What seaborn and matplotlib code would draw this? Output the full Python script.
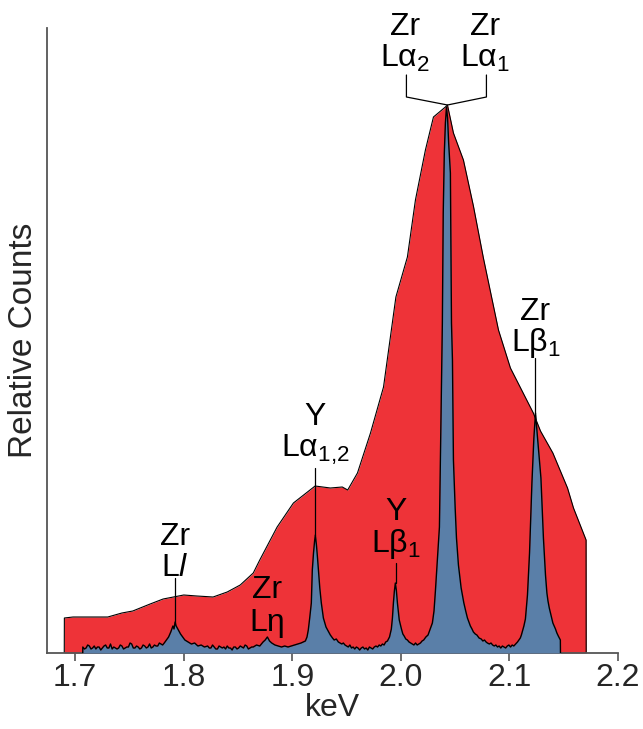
import matplotlib
matplotlib.use("Agg")
import matplotlib.pyplot as plt
import seaborn as sns
import pandas as pd

# ---------------- data ----------------
# EDS spectrum (red envelope): energy (keV) and relative counts
eds_kev = [1.6899, 1.6900, 1.698, 1.707, 1.730, 1.743, 1.753, 1.769, 1.781, 1.800,
           1.812, 1.827, 1.840, 1.852, 1.864, 1.870, 1.886, 1.901, 1.921, 1.935,
           1.946, 1.951, 1.960, 1.972, 1.984, 1.9954, 2.006, 2.0134, 2.0226, 2.030,
           2.041, 2.0429, 2.0484, 2.0576, 2.0668, 2.076, 2.0899, 2.1009, 2.122, 2.1286,
           2.140, 2.1535, 2.159, 2.1706, 2.1707]
eds_counts = [0, 35, 36, 36, 36, 40, 42, 49, 54, 58,
              57, 56, 61, 68, 80, 93, 126, 150, 167, 165,
              166, 163, 180, 220, 266, 356, 396, 453, 503, 536,
              546, 548, 520, 493, 447, 395, 323, 285, 240, 222,
              200, 165, 145, 113, 0]

# WDS spectrum (blue): energy (keV) and relative counts
wds_kev = [1.7069, 1.7070, 1.7085, 1.710, 1.7115, 1.713, 1.7145, 1.716, 1.7175, 1.719,
           1.7205, 1.722, 1.7235, 1.725, 1.7265, 1.728, 1.7295, 1.731, 1.7325, 1.734,
           1.7355, 1.737, 1.7385, 1.740, 1.7415, 1.743, 1.7445, 1.746, 1.7475, 1.749,
           1.7505, 1.752, 1.7535, 1.755, 1.7565, 1.758, 1.7595, 1.761, 1.7625, 1.764,
           1.7655, 1.767, 1.7685, 1.770, 1.7715, 1.773, 1.7745, 1.776, 1.7775, 1.779,
           1.7805, 1.782, 1.784, 1.786, 1.788, 1.790, 1.791, 1.792, 1.793, 1.795,
           1.797, 1.799, 1.801, 1.804, 1.807, 1.810, 1.813, 1.816, 1.819, 1.822,
           1.8235, 1.825, 1.8265, 1.828, 1.8295, 1.831, 1.8325, 1.834, 1.8355, 1.837,
           1.8385, 1.840, 1.8415, 1.843, 1.8445, 1.846, 1.8475, 1.849, 1.8505, 1.852,
           1.8535, 1.855, 1.8565, 1.858, 1.8595, 1.861, 1.8625, 1.864, 1.867, 1.870,
           1.873, 1.875, 1.877, 1.879, 1.881, 1.884, 1.887, 1.890, 1.893, 1.896,
           1.899, 1.902, 1.905, 1.908, 1.910, 1.912, 1.9135, 1.9147, 1.9160, 1.9175,
           1.9184, 1.9195, 1.9205, 1.9212, 1.9222, 1.9232, 1.9240, 1.9253, 1.9267, 1.9286,
           1.9310, 1.9330, 1.9350, 1.9370, 1.9385, 1.9405, 1.9424, 1.9440, 1.9455, 1.9470,
           1.9485, 1.9500, 1.9515, 1.9530, 1.9545, 1.9560, 1.9575, 1.9590, 1.9605, 1.9620,
           1.9635, 1.9650, 1.9665, 1.9680, 1.9695, 1.9710, 1.9725, 1.9740, 1.9755, 1.9770,
           1.9785, 1.9800, 1.9815, 1.9830, 1.9845, 1.9860, 1.9876, 1.9895, 1.9912, 1.9922,
           1.9931, 1.9940, 1.9949, 1.9958, 1.9968, 1.9985, 2.0005, 2.0018, 2.0030, 2.0045,
           2.0060, 2.0075, 2.0090, 2.0105, 2.0120, 2.0135, 2.0150, 2.0165, 2.0180, 2.0195,
           2.0210, 2.0230, 2.0250, 2.0270, 2.0290, 2.0305, 2.0318, 2.0336, 2.0355, 2.0364,
           2.0373, 2.0382, 2.0390, 2.0400, 2.0410, 2.0420, 2.0430, 2.0440, 2.0456, 2.0466,
           2.0475, 2.0484, 2.0500, 2.0512, 2.0530, 2.0555, 2.0580, 2.0597, 2.0613, 2.0627,
           2.0640, 2.0655, 2.0668, 2.0685, 2.0700, 2.0720, 2.0740, 2.0755, 2.0770, 2.0785,
           2.0797, 2.0815, 2.0830, 2.0845, 2.0860, 2.0875, 2.0890, 2.0905, 2.0920, 2.0935,
           2.0950, 2.0965, 2.0980, 2.0995, 2.1010, 2.1025, 2.1040, 2.1057, 2.1074, 2.1087,
           2.1100, 2.1110, 2.1120, 2.1133, 2.1147, 2.1166, 2.1185, 2.1207, 2.1225, 2.1240,
           2.1255, 2.1290, 2.1313, 2.1332, 2.1345, 2.1355, 2.1367, 2.1378, 2.1390, 2.1400,
           2.1412, 2.1424, 2.1437, 2.1450, 2.1460, 2.1469, 2.1470]
wds_counts = [0, 6, 4, 5, 8, 7, 4, 5, 7, 4,
              6, 6, 3, 5, 7, 8, 5, 5, 9, 4,
              6, 5, 4, 5, 8, 7, 4, 5, 6, 6,
              10, 9, 5, 5, 7, 6, 4, 5, 8, 7,
              5, 6, 9, 5, 6, 8, 7, 7, 10, 9,
              8, 10, 13, 16, 21, 27, 24, 31, 27, 23,
              19, 16, 13, 11, 9, 10, 7, 8, 6, 7,
              5, 5, 8, 6, 4, 4, 7, 6, 5, 6,
              4, 7, 5, 5, 3, 6, 6, 4, 5, 7,
              6, 5, 8, 7, 4, 5, 6, 6, 8, 7,
              11, 13, 16, 12, 10, 8, 7, 6, 7, 6,
              7, 8, 9, 10, 11, 12, 16, 23, 35, 50,
              83, 100, 112, 118, 108, 95, 83, 65, 50, 35,
              26, 22, 18, 15, 13, 14, 11, 10, 9, 10,
              8, 7, 6, 8, 5, 6, 4, 6, 5, 3,
              5, 6, 4, 5, 3, 6, 5, 4, 6, 7,
              6, 8, 7, 9, 8, 11, 12, 16, 24, 35,
              50, 62, 70, 63, 50, 33, 24, 19, 17, 14,
              13, 11, 10, 9, 8, 10, 8, 9, 10, 12,
              13, 16, 18, 24, 30, 42, 62, 93, 126, 193,
              260, 330, 440, 500, 530, 546, 535, 510, 480, 330,
              293, 193, 145, 115, 88, 65, 50, 42, 35, 31,
              27, 24, 21, 19, 18, 15, 14, 12, 13, 11,
              10, 9, 10, 8, 7, 8, 6, 7, 5, 7,
              6, 5, 7, 8, 6, 8, 7, 9, 11, 13,
              15, 18, 22, 27, 34, 58, 100, 170, 215, 240,
              220, 175, 115, 78, 60, 52, 45, 40, 35, 30,
              27, 24, 20, 17, 15, 13, 0]

xticks = [1.7, 1.8, 1.9, 2.0, 2.1, 2.2]
xticklabels = ["1.7", "1.8", "1.9", "2.0", "2.1", "2.2"]

# line labels: (x keV, element, line, y of element text, y of line text, marker top, marker bottom)
labels = [
    (1.7922, "Zr", r"L$\mathit{l}$", 108, 77, 75, 30),
    (1.8770, "Zr", "Lη", 55, 22, None, None),
    (1.9212, "Y", r"Lα$_{1{,}2}$", 228, 196, 185, 118),
    (1.9955, "Y", r"Lβ$_1$", 133, 101, 90, 70),
    (2.1240, "Zr", r"Lβ$_1$", 333, 302, 295, 240),
    (2.0041, "Zr", r"Lα$_2$", 618, 586, None, None),
    (2.0779, "Zr", r"Lα$_1$", 618, 586, None, None),
]
# bracket for the Zr Lα doublet
bracket_x = [2.0051, 2.0051, 2.0429, 2.0788, 2.0788]
bracket_y = [578, 556, 548, 556, 578]

RED = "#EE3338"
BLUE = "#5A7FA8"

# ---------------- style ----------------
sns.set_theme(style="ticks")
plt.rcParams["font.family"] = ["Liberation Sans", "DejaVu Sans"]
plt.rcParams["mathtext.fontset"] = "custom"
plt.rcParams["mathtext.rm"] = "Liberation Sans"
plt.rcParams["mathtext.it"] = "Liberation Sans:italic"
plt.rcParams["mathtext.bf"] = "Liberation Sans:bold"

fig = plt.figure(figsize=(6.43, 7.29), dpi=100)
ax = fig.add_axes([47 / 643, 76 / 729, 571 / 643, 625 / 729])

eds = pd.DataFrame({"keV": eds_kev, "counts": eds_counts})
wds = pd.DataFrame({"keV": wds_kev, "counts": wds_counts})

ax.fill_between(eds["keV"], eds["counts"], color=RED, lw=0, zorder=1)
sns.lineplot(data=eds, x="keV", y="counts", sort=False, estimator=None,
             color="black", lw=0.8, ax=ax, zorder=2)
ax.fill_between(wds["keV"], wds["counts"], color=BLUE, lw=0, zorder=3)
sns.lineplot(data=wds, x="keV", y="counts", sort=False, estimator=None,
             color="black", lw=1.0, ax=ax, zorder=4)

FS = 23
for x, el, ln, ye, yl, mt, mb in labels:
    ax.text(x, ye, el, ha="center", va="baseline", fontsize=FS, color="black", zorder=6)
    ax.text(x, yl, ln, ha="center", va="baseline", fontsize=FS, color="black", zorder=6)
    if mt is not None:
        ax.plot([x, x], [mt, mb], color="black", lw=0.9, zorder=5)
ax.plot(bracket_x, bracket_y, color="black", lw=0.9, zorder=5)

ax.set_xlim(1.674, 2.2)
ax.set_ylim(0, 625)
ax.set_xticks(xticks)
ax.set_xticklabels(xticklabels, fontsize=FS)
ax.set_yticks([])
ax.tick_params(axis="x", direction="out", length=6, width=1.2, color="#555555", pad=1)
ax.set_xlabel("keV", fontsize=FS, labelpad=0)
ax.set_ylabel("Relative Counts", fontsize=24)
ax.yaxis.set_label_coords(-0.014, 0.5)
for s in ["top", "right"]:
    ax.spines[s].set_visible(False)
for s in ["left", "bottom"]:
    ax.spines[s].set_color("#555555")
    ax.spines[s].set_linewidth(1.3)

fig.savefig("out.png", dpi=100)
